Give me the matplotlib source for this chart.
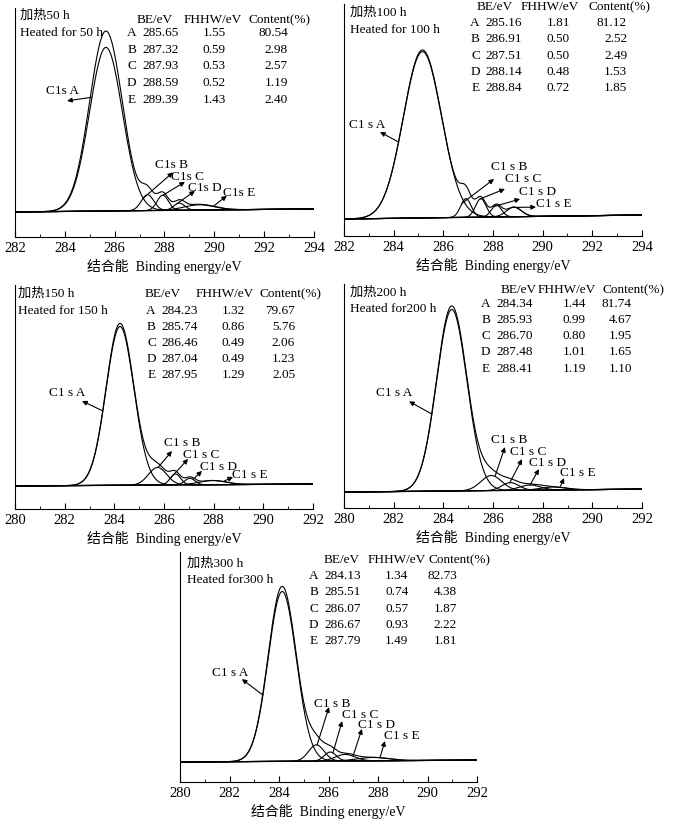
import numpy as np
import matplotlib.pyplot as plt
from matplotlib.ticker import MultipleLocator

plt.rcParams['font.family'] = ['Liberation Serif', 'Noto Sans CJK SC']

heated_cn = ["加热50 h", "加热100 h", "加热150 h", "加热200 h", "加热300 h"]
heated_en = ["Heated for 50 h", "Heated for 100 h", "Heated for 150 h",
             "Heated for200 h", "Heated for300 h"]
peaks = ["A", "B", "C", "D", "E"]
be = [[285.65, 287.32, 287.93, 288.59, 289.39],
      [285.16, 286.91, 287.51, 288.14, 288.84],
      [284.23, 285.74, 286.46, 287.04, 287.95],
      [284.34, 285.93, 286.70, 287.48, 288.41],
      [284.13, 285.51, 286.07, 286.67, 287.79]]
fwhm = [[1.55, 0.59, 0.53, 0.52, 1.43],
        [1.81, 0.50, 0.50, 0.48, 0.72],
        [1.32, 0.86, 0.49, 0.49, 1.29],
        [1.44, 0.99, 0.80, 1.01, 1.19],
        [1.34, 0.74, 0.57, 0.93, 1.49]]
content = [[80.54, 2.98, 2.57, 1.19, 2.40],
           [81.12, 2.52, 2.49, 1.53, 1.85],
           [79.67, 5.76, 2.06, 1.23, 2.05],
           [81.74, 4.67, 1.95, 1.65, 1.10],
           [82.73, 4.38, 1.87, 2.22, 1.81]]
x_ranges = [(282, 294), (282, 294), (280, 292), (280, 292), (280, 292)]
# measured envelope relative to the fitted sum, and background rise
envelope_k = [1.10, 1.01, 1.02, 1.02, 1.03]
bg_rise = [0.017, 0.024, 0.012, 0.016, 0.011]

# layout (pixels of the 674x828 picture): left, bottom, width, height
axes_px = [(15, 238, 299, 229), (344, 237, 298, 232), (15, 510, 298, 224),
           (344, 509, 298, 224), (180, 783, 297, 230)]
ylims = [(-0.139, 1.133), (-0.101, 1.280), (-0.142, 1.241),
         (-0.086, 1.124), (-0.114, 1.20)]
title_pos = [(0.017, 0.97, 0.895), (0.02, 0.965, 0.892), (0.01, 0.964, 0.888),
             (0.02, 0.964, 0.893), (0.024, 0.952, 0.883)]
# BE left x, FWHM centre, content right, header centres, header y, row0 y, step
table_pos = [(0.425, 0.666, 0.913, (0.468, 0.662, 0.886), 0.952, 0.895, 0.073),
             (0.476, 0.72, 0.95, (0.507, 0.69, 0.925), 0.99, 0.922, 0.070),
             (0.493, 0.732, 0.94, (0.497, 0.705, 0.923), 0.964, 0.888, 0.071),
             (0.51, 0.772, 0.966, (0.587, 0.748, 0.973), 0.978, 0.915, 0.072),
             (0.485, 0.73, 0.933, (0.545, 0.73, 0.94), 0.97, 0.90, 0.071)]
label_xy = [[(283.9, 0.68), (288.3, 0.267), (288.94, 0.2), (289.62, 0.14), (291.0, 0.11)],
            [(282.93, 0.565), (288.64, 0.315), (289.2, 0.244), (289.8, 0.167), (290.46, 0.095)],
            [(282.09, 0.58), (286.73, 0.27), (287.49, 0.2), (288.2, 0.123), (289.46, 0.074)],
            [(282.01, 0.54), (286.65, 0.286), (287.4, 0.22), (288.2, 0.16), (289.4, 0.11)],
            [(282.02, 0.514), (286.14, 0.337), (287.27, 0.274), (287.92, 0.217), (288.97, 0.154)]]
head_xy = [[(284.09, 0.617), (288.34, 0.22), (288.82, 0.167), (289.22, 0.117), (290.5, 0.09)],
           [(283.45, 0.518), (288.04, 0.238), (288.48, 0.179), (289.09, 0.119), (289.73, 0.071)],
           [(282.7, 0.525), (286.32, 0.216), (286.97, 0.167), (287.53, 0.093), (288.78, 0.056)],
           [(282.62, 0.49), (286.48, 0.243), (287.17, 0.178), (287.85, 0.124), (288.86, 0.076)],
           [(282.5, 0.474), (286.02, 0.314), (286.55, 0.234), (287.35, 0.189), (288.28, 0.12)]]
tail_x = [[285.09, 287.14, 287.94, 288.5, 289.95],
          [284.2, 286.75, 287.48, 288.04, 288.77],
          [283.54, 285.76, 286.24, 287.17, 288.38],
          [283.54, 286.08, 286.68, 287.49, 288.7],
          [283.35, 285.54, 286.18, 286.99, 288.08]]


def gauss(x, centre, width, area):
  sigma = width / 2.3548
  return area / width * np.exp(-0.5 * ((x - centre) / sigma) ** 2)


def plot_panel(fig, i):
  l, b, w, h = axes_px[i]
  ax = fig.add_axes([l / 674, 1 - b / 828, w / 674, h / 828])
  x0, x1 = x_ranges[i]
  x = np.linspace(x0, x1, 800)
  bg = bg_rise[i] * (x - x0) / (x1 - x0)
  comps = [gauss(x, c, wd, a) for c, wd, a in zip(be[i], fwhm[i], content[i])]
  scale = 1 / (envelope_k[i] * np.max(sum(comps)))
  comps = [c * scale for c in comps]
  envelope = bg + envelope_k[i] * sum(comps)

  ax.plot(x, bg, color="black", lw=0.9)
  for c in comps:
    ax.plot(x, bg + c, color="black", lw=0.8)
  ax.plot(x, envelope, color="black", lw=0.8)

  sep = "" if i == 0 else " "
  for j, p in enumerate(peaks):
    tx, ty = label_xy[i][j]
    ax.text(tx, ty, f"C1{sep}s {p}", fontsize=9.5, ha="center", va="center")
    xt = tail_x[i][j]
    yt = bg_rise[i] * (xt - x0) / (x1 - x0) + gauss(xt, be[i][j], fwhm[i][j], content[i][j]) * scale
    ax.annotate("", xy=head_xy[i][j], xytext=(xt, yt),
                arrowprops=dict(arrowstyle="-|>", color="black", lw=0.8,
                                mutation_scale=7, shrinkA=0, shrinkB=0))

  tx, ty1, ty2 = title_pos[i]
  ax.text(tx, ty1, heated_cn[i], transform=ax.transAxes, fontsize=9.5, va="center")
  ax.text(tx, ty2, heated_en[i], transform=ax.transAxes, fontsize=9.5, va="center")

  cb, cf, cc, heads, hy, ry, step = table_pos[i]
  tr = ax.transAxes
  ax.text(heads[0], hy, "BE/eV", transform=tr, fontsize=9.5, ha="center", va="center")
  ax.text(heads[1], hy, "FHHW/eV", transform=tr, fontsize=9.5, ha="center", va="center")
  ax.text(heads[2], hy, "Content(%)", transform=tr, fontsize=9.5, ha="center", va="center")
  for j, p in enumerate(peaks):
    y = ry - j * step
    ax.text(cb - 0.02, y, p, transform=tr, fontsize=9.5, ha="right", va="center")
    ax.text(cb, y, f"{be[i][j]:.2f}", transform=tr, fontsize=9.5, ha="left", va="center")
    ax.text(cf, y, f"{fwhm[i][j]:.2f}", transform=tr, fontsize=9.5, ha="center", va="center")
    ax.text(cc, y, f"{content[i][j]:.2f}", transform=tr, fontsize=9.5, ha="right", va="center")

  ax.set_xlim(x0, x1)
  ax.set_ylim(*ylims[i])
  ax.spines["top"].set_visible(False)
  ax.spines["right"].set_visible(False)
  ax.set_yticks([])
  ax.xaxis.set_major_locator(MultipleLocator(2))
  ax.xaxis.set_minor_locator(MultipleLocator(1))
  ax.tick_params(axis="x", which="major", direction="in", length=4, labelsize=10.5, pad=3)
  ax.tick_params(axis="x", which="minor", direction="in", length=2.5)
  ax.set_xlabel("结合能  Binding energy/eV", fontsize=10, labelpad=3)


fig = plt.figure(figsize=(6.74, 8.28), dpi=100)
for i in range(5):
  plot_panel(fig, i)
fig.savefig("out.png", dpi=100)
